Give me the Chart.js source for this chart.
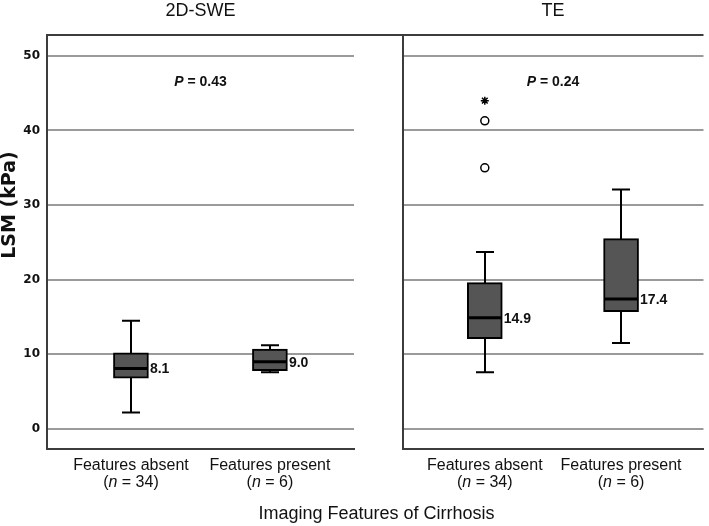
<!DOCTYPE html>
<html lang="en">
<head>
<meta charset="UTF-8">
<title>LSM by imaging features of cirrhosis</title>
<script src="https://cdn.jsdelivr.net/npm/chart.js"></script>
<style>
  body { margin: 0; background: #fff; font-family: "Liberation Sans", Arial, sans-serif; }
  .wrap { position: relative; width: 709px; height: 526px; }
  #sweChart { position: absolute; left: 0; top: 0; }
  #teChart { position: absolute; left: 397px; top: 0; }
  .x-title { position: absolute; left: 47px; width: 659px; top: 502px; text-align: center;
             font-size: 18px; line-height: 22px; color: #111; }
</style>
</head>
<body>
<div class="wrap">
  <canvas id="sweChart" width="399" height="526"></canvas>
  <canvas id="teChart" width="312" height="526"></canvas>
  <div class="x-title">Imaging Features of Cirrhosis</div>
</div>

<script>
// categories
const groups = ['Features absent', 'Features present'];
const groupN = [34, 6];
const panelTitles = ['2D-SWE', 'TE'];
const pValues = ['0.43', '0.24'];

// 2D-SWE boxes (kPa)
const sweMin = [2.2, 7.6];
const sweQ1 = [6.8, 7.8];
const sweMedian = [8.1, 9.0];
const sweQ3 = [10.2, 10.7];
const sweMax = [14.5, 11.2];

// TE boxes (kPa)
const teMin = [7.6, 11.5];
const teQ1 = [12.1, 15.7];
const teMedian = [14.9, 17.4];
const teQ3 = [19.6, 25.5];
const teMax = [23.7, 32.1];
// outliers (circles) and extremes (stars), Features absent group
const teOutlierGroup = [0, 0];
const teOutliers = [35.0, 41.3];
const teExtremeGroup = [0];
const teExtremes = [44.0];

const FONT = '"Liberation Sans", Arial, sans-serif';
const frame = '#3c3c3c';
const ink = '#111';

function boxPlugin(p) {
    return {
        id: 'boxExtras',
        beforeDatasetsDraw(chart) {
            // whiskers sit under the boxes
            const {ctx, scales: {x, y}} = chart;
            ctx.save();
            ctx.strokeStyle = '#000';
            ctx.lineWidth = 2;
            p.median.forEach((m, i) => {
                const cx = Math.round(x.getPixelForValue(i));
                const lo = y.getPixelForValue(p.min[i]);
                const hi = y.getPixelForValue(p.max[i]);
                ctx.beginPath();
                ctx.moveTo(cx, lo); ctx.lineTo(cx, hi);
                ctx.moveTo(cx - 9, lo); ctx.lineTo(cx + 9, lo);
                ctx.moveTo(cx - 9, hi); ctx.lineTo(cx + 9, hi);
                ctx.stroke();
            });
            ctx.restore();
        },
        afterDatasetsDraw(chart) {
            const {ctx, scales: {x, y}} = chart;
            ctx.save();
            p.median.forEach((m, i) => {
                const cx = x.getPixelForValue(i);
                const my = y.getPixelForValue(m);
                ctx.strokeStyle = '#000';
                ctx.lineWidth = 3;
                ctx.beginPath();
                ctx.moveTo(cx - 17, my); ctx.lineTo(cx + 17, my);
                ctx.stroke();
                ctx.fillStyle = ink;
                ctx.font = 'bold 14px ' + FONT;
                ctx.textAlign = 'left';
                ctx.textBaseline = 'middle';
                ctx.fillText(m.toFixed(1), cx + 19, my + 1);
            });
            ctx.restore();
        },
        afterDraw(chart) {
            const {ctx, chartArea: a, scales: {x}} = chart;
            const mid = (a.left + a.right) / 2;
            ctx.save();

            // top frame line
            ctx.strokeStyle = frame;
            ctx.lineWidth = 2;
            ctx.beginPath();
            ctx.moveTo(p.yTitle ? a.left - 1 : 0, a.top);
            ctx.lineTo(p.yTitle ? chart.width : a.right, a.top);
            ctx.stroke();

            ctx.fillStyle = ink;
            ctx.textAlign = 'center';
            ctx.textBaseline = 'middle';

            // panel title
            ctx.font = '18px ' + FONT;
            ctx.fillText(p.title, mid, 11);

            // P value
            ctx.font = 'bold italic 14px ' + FONT;
            const pw = ctx.measureText('P').width;
            ctx.font = 'bold 14px ' + FONT;
            const rest = ' = ' + p.pValue;
            const rw = ctx.measureText(rest).width;
            let px = mid - (pw + rw) / 2;
            const py = a.top + 47;
            ctx.textAlign = 'left';
            ctx.font = 'bold italic 14px ' + FONT;
            ctx.fillText('P', px, py);
            ctx.font = 'bold 14px ' + FONT;
            ctx.fillText(rest, px + pw, py);

            // category labels
            groups.forEach((g, i) => {
                const cx = x.getPixelForValue(i);
                ctx.font = '16px ' + FONT;
                ctx.textAlign = 'center';
                ctx.fillText(g, cx, a.bottom + 17);
                const parts = [['(', '16px '], ['n', 'italic 16px '], [' = ' + groupN[i] + ')', '16px ']];
                let w = 0;
                parts.forEach(pt => { ctx.font = pt[1] + FONT; w += ctx.measureText(pt[0]).width; });
                let tx = cx - w / 2;
                ctx.textAlign = 'left';
                parts.forEach(pt => {
                    ctx.font = pt[1] + FONT;
                    ctx.fillText(pt[0], tx, a.bottom + 34);
                    tx += ctx.measureText(pt[0]).width;
                });
            });

            // y axis title
            if (p.yTitle) {
                ctx.translate(10, 205);
                ctx.rotate(-Math.PI / 2);
                ctx.textAlign = 'center';
                ctx.font = 'bold 19px "DejaVu Sans", sans-serif';
                ctx.fillText(p.yTitle, 0, 0);
            }
            ctx.restore();
        }
    };
}

function makePanel(id, p) {
    const boxes = p.q1.map((q, i) => ({x: i, y: [q, p.q3[i]]}));
    const outs = p.outliers.map((v, i) => ({x: p.outlierGroup[i], y: v}));
    const extremes = p.extremes.map((v, i) => ({x: p.extremeGroup[i], y: v}));

    return new Chart(document.getElementById(id), {
        type: 'bar',
        data: {
            datasets: [
                { type: 'bar', data: boxes, backgroundColor: '#555555', borderColor: '#000',
                  borderWidth: 2, borderSkipped: false, barThickness: 35 },
                { type: 'line', data: outs, showLine: false, pointStyle: 'circle', pointRadius: 4,
                  pointBorderWidth: 1.5, pointBorderColor: '#000', pointBackgroundColor: '#fff' },
                { type: 'line', data: extremes, showLine: false, pointStyle: 'star', pointRadius: 4,
                  pointBorderWidth: 1.5, pointBorderColor: '#000' }
            ]
        },
        options: {
            responsive: false,
            animation: false,
            events: [],
            layout: { padding: { top: 35, right: p.padRight } },
            plugins: { legend: { display: false }, tooltip: { enabled: false } },
            scales: {
                x: {
                    type: 'linear', min: -0.604, max: 1.605, offset: false,
                    ticks: { display: false },
                    grid: { display: false },
                    border: { display: true, color: frame, width: 2 },
                    afterFit: s => { s.height = 77; }
                },
                y: {
                    min: -2.7, max: 52.8,
                    ticks: {
                        display: p.showTicks, stepSize: 10, includeBounds: false, padding: 7, color: ink,
                        font: { family: 'DejaVu Sans', weight: 'bold', size: 12 }
                    },
                    grid: { color: '#9a9a9a', lineWidth: 2, drawTicks: false },
                    border: { display: true, color: frame, width: 2 },
                    afterFit: s => { s.width = p.axisWidth; }
                }
            }
        },
        plugins: [boxPlugin(p)]
    });
}

makePanel('sweChart', {
    title: panelTitles[0], pValue: pValues[0], yTitle: 'LSM (kPa)',
    min: sweMin, q1: sweQ1, median: sweMedian, q3: sweQ3, max: sweMax,
    outliers: [], outlierGroup: [], extremes: [], extremeGroup: [],
    showTicks: true, axisWidth: 47, padRight: 45
});

makePanel('teChart', {
    title: panelTitles[1], pValue: pValues[1], yTitle: null,
    min: teMin, q1: teQ1, median: teMedian, q3: teQ3, max: teMax,
    outliers: teOutliers, outlierGroup: teOutlierGroup,
    extremes: teExtremes, extremeGroup: teExtremeGroup,
    showTicks: false, axisWidth: 2, padRight: 3
});
</script>
</body>
</html>
